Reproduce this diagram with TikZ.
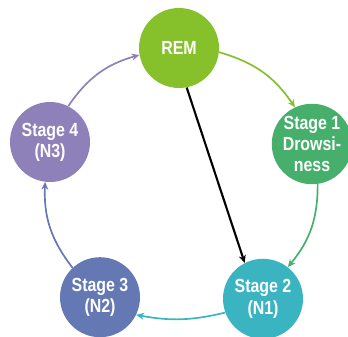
\documentclass[tikz,border=0pt]{standalone}
\usepackage{fontspec}
\setmainfont{Liberation Sans}[FakeStretch=0.84]
\usetikzlibrary{arrows.meta}
\definecolor{remc}{HTML}{86C12B}
\definecolor{onec}{HTML}{45AF6B}
\definecolor{twoc}{HTML}{3BB4C2}
\definecolor{threec}{HTML}{6479B4}
\definecolor{fourc}{HTML}{8E81B9}
\begin{document}
\begin{tikzpicture}[stage/.style={circle,minimum size=2cm,inner sep=0pt,text=white,align=center,
      font=\bfseries\fontsize{13.5}{15}\selectfont},
    link/.style={line width=1.2pt,-{Stealth[length=5.5pt,width=5pt]}}]
\useasboundingbox (0,0) rectangle (8.7,8.4);
\node[stage,fill=remc] (rem) at (4.475,7.2) {REM};
\node[stage,fill=onec] (s1) at (7.8,4.8) {Stage 1\\Drowsi-\\ness};
\node[stage,fill=twoc] (s2) at (6.575,0.93) {Stage 2\\(N1)};
\node[stage,fill=threec] (s3) at (2.5,0.97) {Stage 3\\(N2)};
\node[stage,fill=fourc] (s4) at (1.25,4.85) {Stage 4\\(N3)};
\draw[link,remc] (rem.-6) to[bend left=20] (s1.115);
\draw[link,onec] (s1.-82) to[bend left=20] (s2.52);
\draw[link,twoc] (s2.200) to[bend left=12] (s3.-26);
\draw[link,threec] (s3.133) to[bend left=20] (s4.-97);
\draw[link,fourc] (s4.63) to[bend left=20] (rem.190);
\draw[link,black,line width=1.5pt] (rem.-79) -- (s2.117);
\end{tikzpicture}
\end{document}
